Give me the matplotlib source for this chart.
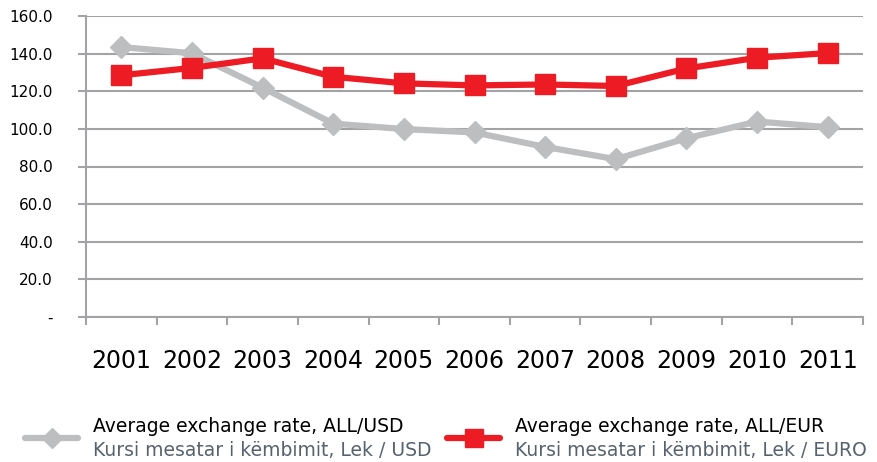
import matplotlib.pyplot as plt
from matplotlib.lines import Line2D
from matplotlib.ticker import FixedLocator, FuncFormatter
import numpy as np

years = ["2001", "2002", "2003", "2004", "2005", "2006", "2007", "2008", "2009", "2010", "2011"]
usd = [143.5, 140.2, 121.9, 102.8, 99.9, 98.1, 90.4, 83.9, 95.0, 103.9, 100.9]
eur = [128.5, 132.4, 137.5, 127.7, 124.2, 123.1, 123.6, 122.8, 132.1, 137.8, 140.3]
label_en = ["Average exchange rate, ALL/USD", "Average exchange rate, ALL/EUR"]
label_sq = ["Kursi mesatar i këmbimit, Lek / USD", "Kursi mesatar i këmbimit, Lek / EURO"]

grey = "#BDBEC0"
red = "#ED1C24"
gridc = "#A3A3A6"

plt.rcParams['font.family'] = ['DejaVu Sans']

fig = plt.figure(figsize=(8.77, 4.62), dpi=100)
ax = fig.add_axes([86 / 877, 1 - 317 / 462, 777 / 877, 301 / 462])

x = np.arange(len(years))
ax.plot(x, usd, color=grey, lw=4.5, marker="D", ms=11, mec=grey, mfc=grey, zorder=3)
ax.plot(x, eur, color=red, lw=4.5, marker="s", ms=14, mec=red, mfc=red, zorder=4)

ax.set_xlim(-0.5, len(years) - 0.5)
ax.set_ylim(0, 160)
ax.set_yticks(np.arange(0, 161, 20))
ax.yaxis.set_major_formatter(FuncFormatter(lambda v, p: "-" if v == 0 else f"{v:.1f}"))
ax.yaxis.grid(True, color=gridc, lw=1.5)
ax.set_axisbelow(True)

ax.xaxis.set_major_locator(FixedLocator(np.arange(-0.5, len(years), 1.0)))
ax.xaxis.set_major_formatter(FuncFormatter(lambda v, p: ""))
ax.xaxis.set_minor_locator(FixedLocator(x))
ax.set_xticklabels(years, minor=True)
ax.tick_params(axis="x", which="major", length=6, width=1.5, color=gridc)
ax.tick_params(axis="x", which="minor", length=0, pad=23, labelsize=17)
ax.tick_params(axis="y", length=6, width=1.5, color=gridc, pad=18, labelsize=11)

for s in ["top", "right"]:
    ax.spines[s].set_visible(False)
ax.spines["left"].set_color(gridc)
ax.spines["left"].set_linewidth(1.5)
ax.spines["bottom"].set_color(gridc)
ax.spines["bottom"].set_linewidth(1.5)

# legend drawn by hand (two-coloured labels)
handles = [(25, grey, "D", 11), (447, red, "s", 14)]
for i, (hx, col, mk, ms) in enumerate(handles):
    yl = 1 - 438 / 462
    fig.add_artist(Line2D([hx / 877, (hx + 53) / 877], [yl, yl], color=col, lw=4.5,
                          solid_capstyle="round", transform=fig.transFigure))
    fig.add_artist(Line2D([(hx + 26.5) / 877], [yl], color=col, marker=mk, ms=ms * 0.9,
                          transform=fig.transFigure))
    fig.text((hx + 68) / 877, 1 - 427 / 462, label_en[i], fontsize=13.5, color="black", va="center")
    fig.text((hx + 68) / 877, 1 - 451 / 462, label_sq[i], fontsize=13.5, color="#56636E", va="center")

plt.savefig("out.png", dpi=100)
